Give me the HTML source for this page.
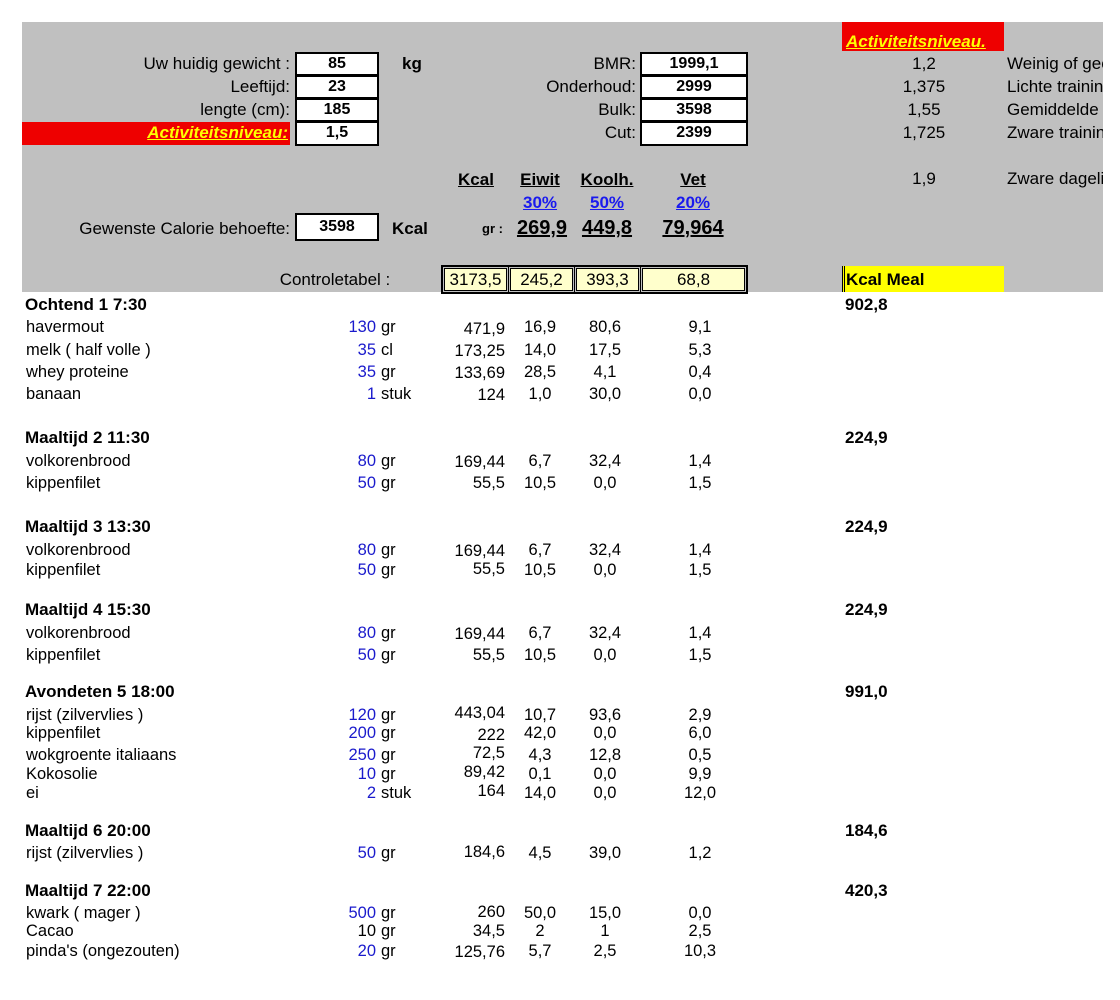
<!DOCTYPE html>
<html><head><meta charset="utf-8"><style>
body{margin:0;width:1120px;height:1000px;background:#fff;position:relative;overflow:hidden;font-family:"Liberation Sans",sans-serif;color:#000}
div{position:absolute;white-space:nowrap}
.t{font-size:17px;line-height:20px}
.r{text-align:right;width:300px}
.c{text-align:center;width:120px}
.b{font-weight:bold}
.box{background:#fff;border:2px solid #000;box-sizing:border-box;text-align:center;font-weight:bold;font-size:16px;line-height:20px}
.cell{background:#ffffcc;border:1px solid #000;box-sizing:border-box;outline:1px solid #000;outline-offset:1px;text-align:center;font-size:17px;line-height:22px}
.s{font-size:16.5px;line-height:18px}
.h{font-size:17px;line-height:18px;font-weight:bold}
.q{color:#1a1acc}
u{text-decoration:underline}
</style></head><body>
<div style="left:22px;top:22px;width:1081px;height:270px;background:#c0c0c0"></div>
<div style="left:22px;top:122px;width:268px;height:23px;background:#ee0000"></div>
<div style="left:842px;top:22px;width:162px;height:29px;background:#ee0000"></div>
<div style="left:842px;top:266px;width:162px;height:26px;background:#ffff00;border-left:3px double #000;box-sizing:border-box"></div>

<div class="t r" style="left:-10px;top:54px">Uw huidig gewicht :</div>
<div class="t r" style="left:-10px;top:77px">Leeftijd:</div>
<div class="t r" style="left:-10px;top:100px">lengte (cm):</div>
<div class="t r b" style="left:-12px;top:123px;color:#ffff00;font-style:italic"><u>Activiteitsniveau:</u></div>
<div class="box" style="left:295px;top:52px;width:84px;height:24px">85</div>
<div class="box" style="left:295px;top:75px;width:84px;height:24px">23</div>
<div class="box" style="left:295px;top:98px;width:84px;height:24px">185</div>
<div class="box" style="left:295px;top:121px;width:84px;height:25px">1,5</div>
<div class="t b" style="left:402px;top:54px">kg</div>

<div class="t r" style="left:336px;top:54px">BMR:</div>
<div class="t r" style="left:336px;top:77px">Onderhoud:</div>
<div class="t r" style="left:336px;top:100px">Bulk:</div>
<div class="t r" style="left:336px;top:123px">Cut:</div>
<div class="box" style="left:640px;top:52px;width:108px;height:24px">1999,1</div>
<div class="box" style="left:640px;top:75px;width:108px;height:24px">2999</div>
<div class="box" style="left:640px;top:98px;width:108px;height:24px">3598</div>
<div class="box" style="left:640px;top:121px;width:108px;height:25px">2399</div>

<div class="t b" style="left:846px;top:32px;color:#ffff00;font-style:italic"><u>Activiteitsniveau.</u></div>
<div class="t c" style="left:864px;top:54px">1,2</div>
<div class="t c" style="left:864px;top:77px">1,375</div>
<div class="t c" style="left:864px;top:100px">1,55</div>
<div class="t c" style="left:864px;top:123px">1,725</div>
<div class="t c" style="left:864px;top:169px">1,9</div>
<div style="left:1007px;top:0;width:96px;height:300px;overflow:hidden">
<div class="t" style="left:0;top:54px">Weinig of geen</div>
<div class="t" style="left:0;top:77px">Lichte training</div>
<div class="t" style="left:0;top:100px">Gemiddelde</div>
<div class="t" style="left:0;top:123px">Zware training</div>
<div class="t" style="left:0;top:169px">Zware dagelijkse</div>
</div>

<div class="t c b" style="left:416px;top:170px"><u>Kcal</u></div>
<div class="t c b" style="left:480px;top:170px"><u>Eiwit</u></div>
<div class="t c b" style="left:547px;top:170px"><u>Koolh.</u></div>
<div class="t c b" style="left:633px;top:170px"><u>Vet</u></div>
<div class="t c b" style="left:480px;top:193px;color:#1a1aee"><u>30%</u></div>
<div class="t c b" style="left:547px;top:193px;color:#1a1aee"><u>50%</u></div>
<div class="t c b" style="left:633px;top:193px;color:#1a1aee"><u>20%</u></div>
<div class="t r" style="left:-10px;top:219px">Gewenste Calorie behoefte:</div>
<div class="box" style="left:295px;top:213px;width:84px;height:28px;line-height:24px">3598</div>
<div class="t b" style="left:392px;top:219px">Kcal</div>
<div class="b" style="left:482px;top:221px;font-size:13px;line-height:16px">gr :</div>
<div class="c b" style="left:482px;top:216px;font-size:20px;line-height:24px"><u>269,9</u></div>
<div class="c b" style="left:547px;top:216px;font-size:20px;line-height:24px"><u>449,8</u></div>
<div class="c b" style="left:633px;top:216px;font-size:20px;line-height:24px"><u>79,964</u></div>

<div class="t c" style="left:275px;top:270px">Controletabel :</div>
<div style="left:441px;top:265px;width:307px;height:29px;border:1px solid #000;box-sizing:border-box;background:#c0c0c0"></div>
<div class="cell" style="left:444px;top:268px;width:63px;height:23px">3173,5</div>
<div class="cell" style="left:510px;top:268px;width:63px;height:23px">245,2</div>
<div class="cell" style="left:576px;top:268px;width:63px;height:23px">393,3</div>
<div class="cell" style="left:642px;top:268px;width:103px;height:23px">68,8</div>
<div class="t b" style="left:846px;top:270px">Kcal Meal</div>

<!-- body -->
<div class="h" style="left:25px;top:296px">Ochtend 1 7:30</div><div class="h" style="left:845px;top:296px">902,8</div>
<div class="s" style="left:26px;top:318px">havermout</div><div class="s r q" style="left:76px;top:318px">130</div><div class="s" style="left:381px;top:318px">gr</div><div class="s r" style="left:205px;top:320px">471,9</div><div class="s c" style="left:480px;top:318px">16,9</div><div class="s c" style="left:545px;top:318px">80,6</div><div class="s c" style="left:640px;top:318px">9,1</div>
<div class="s" style="left:26px;top:341px">melk ( half volle )</div><div class="s r q" style="left:76px;top:341px">35</div><div class="s" style="left:381px;top:341px">cl</div><div class="s r" style="left:205px;top:342px">173,25</div><div class="s c" style="left:480px;top:341px">14,0</div><div class="s c" style="left:545px;top:341px">17,5</div><div class="s c" style="left:640px;top:341px">5,3</div>
<div class="s" style="left:26px;top:363px">whey proteine</div><div class="s r q" style="left:76px;top:363px">35</div><div class="s" style="left:381px;top:363px">gr</div><div class="s r" style="left:205px;top:364px">133,69</div><div class="s c" style="left:480px;top:363px">28,5</div><div class="s c" style="left:545px;top:363px">4,1</div><div class="s c" style="left:640px;top:363px">0,4</div>
<div class="s" style="left:26px;top:385px">banaan</div><div class="s r q" style="left:76px;top:385px">1</div><div class="s" style="left:381px;top:385px">stuk</div><div class="s r" style="left:205px;top:386px">124</div><div class="s c" style="left:480px;top:385px">1,0</div><div class="s c" style="left:545px;top:385px">30,0</div><div class="s c" style="left:640px;top:385px">0,0</div>

<div class="h" style="left:25px;top:429px">Maaltijd 2 11:30</div><div class="h" style="left:845px;top:429px">224,9</div>
<div class="s" style="left:26px;top:452px">volkorenbrood</div><div class="s r q" style="left:76px;top:452px">80</div><div class="s" style="left:381px;top:452px">gr</div><div class="s r" style="left:205px;top:453px">169,44</div><div class="s c" style="left:480px;top:452px">6,7</div><div class="s c" style="left:545px;top:452px">32,4</div><div class="s c" style="left:640px;top:452px">1,4</div>
<div class="s" style="left:26px;top:474px">kippenfilet</div><div class="s r q" style="left:76px;top:474px">50</div><div class="s" style="left:381px;top:474px">gr</div><div class="s r" style="left:205px;top:474px">55,5</div><div class="s c" style="left:480px;top:474px">10,5</div><div class="s c" style="left:545px;top:474px">0,0</div><div class="s c" style="left:640px;top:474px">1,5</div>

<div class="h" style="left:25px;top:518px">Maaltijd 3 13:30</div><div class="h" style="left:845px;top:518px">224,9</div>
<div class="s" style="left:26px;top:541px">volkorenbrood</div><div class="s r q" style="left:76px;top:541px">80</div><div class="s" style="left:381px;top:541px">gr</div><div class="s r" style="left:205px;top:542px">169,44</div><div class="s c" style="left:480px;top:541px">6,7</div><div class="s c" style="left:545px;top:541px">32,4</div><div class="s c" style="left:640px;top:541px">1,4</div>
<div class="s" style="left:26px;top:561px">kippenfilet</div><div class="s r q" style="left:76px;top:561px">50</div><div class="s" style="left:381px;top:561px">gr</div><div class="s r" style="left:205px;top:560px">55,5</div><div class="s c" style="left:480px;top:561px">10,5</div><div class="s c" style="left:545px;top:561px">0,0</div><div class="s c" style="left:640px;top:561px">1,5</div>

<div class="h" style="left:25px;top:601px">Maaltijd 4 15:30</div><div class="h" style="left:845px;top:601px">224,9</div>
<div class="s" style="left:26px;top:624px">volkorenbrood</div><div class="s r q" style="left:76px;top:624px">80</div><div class="s" style="left:381px;top:624px">gr</div><div class="s r" style="left:205px;top:625px">169,44</div><div class="s c" style="left:480px;top:624px">6,7</div><div class="s c" style="left:545px;top:624px">32,4</div><div class="s c" style="left:640px;top:624px">1,4</div>
<div class="s" style="left:26px;top:646px">kippenfilet</div><div class="s r q" style="left:76px;top:646px">50</div><div class="s" style="left:381px;top:646px">gr</div><div class="s r" style="left:205px;top:646px">55,5</div><div class="s c" style="left:480px;top:646px">10,5</div><div class="s c" style="left:545px;top:646px">0,0</div><div class="s c" style="left:640px;top:646px">1,5</div>

<div class="h" style="left:25px;top:683px">Avondeten 5 18:00</div><div class="h" style="left:845px;top:683px">991,0</div>
<div class="s" style="left:26px;top:706px">rijst (zilvervlies )</div><div class="s r q" style="left:76px;top:706px">120</div><div class="s" style="left:381px;top:706px">gr</div><div class="s r" style="left:205px;top:704px">443,04</div><div class="s c" style="left:480px;top:706px">10,7</div><div class="s c" style="left:545px;top:706px">93,6</div><div class="s c" style="left:640px;top:706px">2,9</div>
<div class="s" style="left:26px;top:724px">kippenfilet</div><div class="s r q" style="left:76px;top:724px">200</div><div class="s" style="left:381px;top:724px">gr</div><div class="s r" style="left:205px;top:726px">222</div><div class="s c" style="left:480px;top:724px">42,0</div><div class="s c" style="left:545px;top:724px">0,0</div><div class="s c" style="left:640px;top:724px">6,0</div>
<div class="s" style="left:26px;top:746px">wokgroente italiaans</div><div class="s r q" style="left:76px;top:746px">250</div><div class="s" style="left:381px;top:746px">gr</div><div class="s r" style="left:205px;top:744px">72,5</div><div class="s c" style="left:480px;top:746px">4,3</div><div class="s c" style="left:545px;top:746px">12,8</div><div class="s c" style="left:640px;top:746px">0,5</div>
<div class="s" style="left:26px;top:765px">Kokosolie</div><div class="s r q" style="left:76px;top:765px">10</div><div class="s" style="left:381px;top:765px">gr</div><div class="s r" style="left:205px;top:763px">89,42</div><div class="s c" style="left:480px;top:765px">0,1</div><div class="s c" style="left:545px;top:765px">0,0</div><div class="s c" style="left:640px;top:765px">9,9</div>
<div class="s" style="left:26px;top:784px">ei</div><div class="s r q" style="left:76px;top:784px">2</div><div class="s" style="left:381px;top:784px">stuk</div><div class="s r" style="left:205px;top:782px">164</div><div class="s c" style="left:480px;top:784px">14,0</div><div class="s c" style="left:545px;top:784px">0,0</div><div class="s c" style="left:640px;top:784px">12,0</div>

<div class="h" style="left:25px;top:822px">Maaltijd 6 20:00</div><div class="h" style="left:845px;top:822px">184,6</div>
<div class="s" style="left:26px;top:844px">rijst (zilvervlies )</div><div class="s r q" style="left:76px;top:844px">50</div><div class="s" style="left:381px;top:844px">gr</div><div class="s r" style="left:205px;top:843px">184,6</div><div class="s c" style="left:480px;top:844px">4,5</div><div class="s c" style="left:545px;top:844px">39,0</div><div class="s c" style="left:640px;top:844px">1,2</div>

<div class="h" style="left:25px;top:882px">Maaltijd 7 22:00</div><div class="h" style="left:845px;top:882px">420,3</div>
<div class="s" style="left:26px;top:904px">kwark ( mager )</div><div class="s r q" style="left:76px;top:904px">500</div><div class="s" style="left:381px;top:904px">gr</div><div class="s r" style="left:205px;top:903px">260</div><div class="s c" style="left:480px;top:904px">50,0</div><div class="s c" style="left:545px;top:904px">15,0</div><div class="s c" style="left:640px;top:904px">0,0</div>
<div class="s" style="left:26px;top:922px">Cacao</div><div class="s r" style="left:76px;top:922px">10</div><div class="s" style="left:381px;top:922px">gr</div><div class="s r" style="left:205px;top:922px">34,5</div><div class="s c" style="left:480px;top:922px">2</div><div class="s c" style="left:545px;top:922px">1</div><div class="s c" style="left:640px;top:922px">2,5</div>
<div class="s" style="left:26px;top:942px">pinda's (ongezouten)</div><div class="s r q" style="left:76px;top:942px">20</div><div class="s" style="left:381px;top:942px">gr</div><div class="s r" style="left:205px;top:943px">125,76</div><div class="s c" style="left:480px;top:942px">5,7</div><div class="s c" style="left:545px;top:942px">2,5</div><div class="s c" style="left:640px;top:942px">10,3</div>
</body></html>
